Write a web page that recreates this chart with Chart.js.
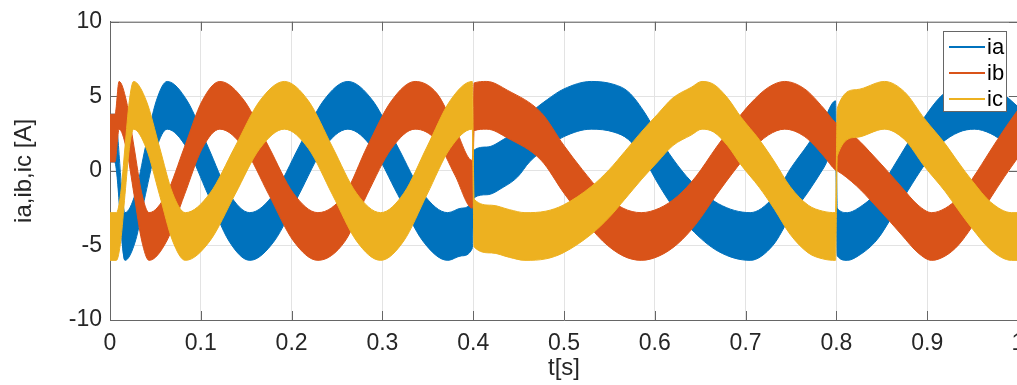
<!DOCTYPE html>
<html>
<head>
<meta charset="utf-8">
<script src="https://cdn.jsdelivr.net/npm/chart.js@4"></script>
<style>
html, body { margin: 0; padding: 0; background: #fff; overflow: hidden; width: 1017px; height: 385px; }
#grafico { position: absolute; left: 0; top: 0; }
</style>
</head>
<body>
<canvas id="grafico" width="1040" height="385"></canvas>
<script>
// nomes e cores das fases
const nomes = ['ia', 'ib', 'ic'];
const cores = ['#0072BD', '#D95319', '#EDB120'];

// meia largura da faixa de ripple (A)
const ripple = 1.6;

// ia - tempos (s) e valor medio da faixa (A)
const tA = [0, 0.005, 0.0165, 0.028, 0.039, 0.051, 0.063, 0.085, 0.108, 0.131, 0.154, 0.181, 0.208, 0.235, 0.262, 0.2895, 0.317, 0.3445, 0.372, 0.387, 0.399,
  0.401, 0.415, 0.433, 0.449, 0.462, 0.482, 0.5, 0.53, 0.555, 0.571, 0.59, 0.604, 0.62, 0.64, 0.67, 0.705, 0.73, 0.75, 0.769, 0.786, 0.799,
  0.801, 0.812, 0.824, 0.845, 0.862, 0.879, 0.897, 0.915, 0.935, 0.952, 0.97, 0.985, 1.0];
const ia = [2.2, 2.2, -4.4, -3.1, 0, 3.1, 4.4, 3.1, 0, -3.1, -4.4, -3.1, 0, 3.1, 4.4, 3.1, 0, -3.1, -4.4, -4.1, -3.6,
  -0.2, 0.0, 0.5, 1.2, 2.2, 3.2, 3.9, 4.4, 4.2, 3.7, 2.2, 0.7, -0.8, -2.3, -3.8, -4.4, -3.4, -1.4, 0.2, 1.8, 3.1,
  -4.1, -4.4, -4.1, -3.0, -1.4, 0.3, 2.0, 3.4, 4.2, 4.4, 4.1, 3.5, 2.7];

// ib
const tB = [0, 0.0055, 0.010, 0.018, 0.0265, 0.035, 0.043, 0.0625, 0.082, 0.1015, 0.121, 0.148, 0.175, 0.202, 0.229, 0.259, 0.283, 0.31, 0.336, 0.36, 0.38, 0.399,
  0.401, 0.415, 0.438, 0.475, 0.5, 0.52, 0.5425, 0.565, 0.585, 0.605, 0.625, 0.645, 0.668, 0.69, 0.705, 0.725, 0.743, 0.765, 0.786, 0.799,
  0.801, 0.822, 0.841, 0.859, 0.872, 0.89, 0.905, 0.92, 0.934, 0.95, 0.97, 0.985, 1.0];
const ib = [2.2, 2.2, 4.4, 3.1, 0, -3.1, -4.4, -3.1, 0, 3.1, 4.4, 3.1, 0, -3.1, -4.4, -3.1, 0, 3.1, 4.4, 3.6, 1.3, -0.9,
  4.3, 4.4, 3.8, 2.3, 0.1, -1.5, -3.1, -4.1, -4.4, -4.1, -3.3, -2.0, 0, 1.8, 2.9, 4.0, 4.4, 3.9, 2.6, 1.65,
  1.6, 0.6, -0.6, -1.8, -2.7, -3.9, -4.4, -4.1, -3.4, -2.1, -0.2, 1.2, 2.5];

// ic
const tC = [0, 0.007, 0.0118, 0.0165, 0.0213, 0.026, 0.040, 0.0545, 0.069, 0.083, 0.110, 0.1375, 0.165, 0.192, 0.2185, 0.245, 0.2715, 0.298, 0.3235, 0.349, 0.3745, 0.399,
  0.401, 0.42, 0.44, 0.457, 0.48, 0.499, 0.53, 0.55, 0.567, 0.585, 0.603, 0.62, 0.64, 0.652, 0.665, 0.68, 0.695, 0.715, 0.732, 0.749, 0.769, 0.785, 0.799,
  0.801, 0.822, 0.853, 0.875, 0.897, 0.92, 0.934, 0.95, 0.97, 0.993, 1.0];
const ic = [-4.4, -4.4, -3.1, 0, 3.1, 4.4, 3.1, 0, -3.1, -4.4, -3.1, 0, 3.1, 4.4, 3.1, 0, -3.1, -4.4, -3.1, 0, 3.1, 4.4,
  -3.5, -3.9, -4.2, -4.4, -4.3, -3.9, -2.65, -1.5, -0.3, 1.0, 2.2, 3.3, 4.0, 4.4, 4.2, 3.3, 2.0, 0.5, -1.0, -2.65, -3.9, -4.3, -4.4,
  2.6, 3.85, 4.4, 3.7, 1.9, 0.2, -1.0, -2.3, -3.7, -4.4, -4.4];

const fonte = "'Liberation Sans', Arial, sans-serif";

function borda(tempos, valores, sinal) {
    return tempos.map((t, i) => ({ x: t, y: valores[i] + sinal * ripple }));
}

// ic desenhado por cima, depois ib, depois ia
const series = [[tC, ic, 2], [tB, ib, 1], [tA, ia, 0]];
const datasets = [];
series.forEach(([t, v, k]) => {
    datasets.push({ label: nomes[k] + ' max', data: borda(t, v, 1), borderColor: cores[k], fill: false });
    datasets.push({ label: nomes[k], data: borda(t, v, -1), borderColor: cores[k], backgroundColor: cores[k], fill: '-1' });
});

// caixa do eixo e marcas para dentro (estilo MATLAB)
const moldura = {
    id: 'moldura',
    beforeDatasetsDraw(chart) {
        const { ctx, chartArea: a, scales } = chart;
        ctx.save();
        ctx.strokeStyle = '#666';
        ctx.lineWidth = 1;
        ctx.beginPath();
        ctx.moveTo(a.left, a.top + 0.5); ctx.lineTo(a.right, a.top + 0.5);
        ctx.moveTo(a.right - 0.5, a.top); ctx.lineTo(a.right - 0.5, a.bottom);
        scales.x.ticks.forEach(tk => {
            const px = Math.round(scales.x.getPixelForValue(tk.value)) + 0.5;
            ctx.moveTo(px, a.bottom); ctx.lineTo(px, a.bottom - 9);
            ctx.moveTo(px, a.top); ctx.lineTo(px, a.top + 9);
        });
        scales.y.ticks.forEach(tk => {
            const py = Math.round(scales.y.getPixelForValue(tk.value)) + 0.5;
            ctx.moveTo(a.left, py); ctx.lineTo(a.left + 9, py);
            ctx.moveTo(a.right, py); ctx.lineTo(a.right - 9, py);
        });
        ctx.stroke();
        ctx.restore();
    },
    // legenda dentro da area do grafico, canto superior direito
    afterDraw(chart) {
        const ctx = chart.ctx;
        ctx.save();
        ctx.fillStyle = '#fff';
        ctx.fillRect(943, 31, 64, 81);
        ctx.strokeStyle = '#666';
        ctx.lineWidth = 1;
        ctx.strokeRect(943.5, 31.5, 63, 80);
        ctx.font = '22px ' + fonte;
        ctx.textBaseline = 'middle';
        nomes.forEach((n, i) => {
            const y = 47 + i * 26;
            ctx.strokeStyle = cores[i];
            ctx.lineWidth = 2;
            ctx.beginPath();
            ctx.moveTo(949, y);
            ctx.lineTo(985, y);
            ctx.stroke();
            ctx.fillStyle = '#000';
            ctx.fillText(n, 987, y + 1);
        });
        ctx.restore();
    }
};

const contexto = document.getElementById('grafico').getContext('2d');
new Chart(contexto, {
    type: 'line',
    data: { datasets: datasets },
    plugins: [moldura],
    options: {
        responsive: false,
        animation: false,
        devicePixelRatio: 1,
        layout: { padding: { left: 0, right: 22, top: 20, bottom: 0 } },
        elements: {
            point: { radius: 0 },
            line: { borderWidth: 1, cubicInterpolationMode: 'monotone' }
        },
        plugins: { legend: { display: false }, tooltip: { enabled: false } },
        scales: {
            x: {
                type: 'linear', min: 0, max: 1,
                afterFit: s => { s.height = 65; },
                ticks: {
                    stepSize: 0.1, autoSkip: false, maxRotation: 0, padding: 10, color: '#262626',
                    font: { family: fonte, size: 23 },
                    callback: v => String(Math.round(v * 10) / 10)
                },
                grid: { color: '#e3e3e3', drawTicks: false },
                border: { color: '#666' },
                title: { display: true, text: 't[s]', color: '#262626', font: { family: fonte, size: 24 }, padding: { top: 0, bottom: 2 } }
            },
            y: {
                min: -10, max: 10,
                afterFit: s => { s.width = 110; },
                ticks: { stepSize: 5, padding: 8, color: '#262626', font: { family: fonte, size: 23 } },
                grid: { color: '#e3e3e3', drawTicks: false },
                border: { color: '#666' },
                title: { display: true, text: 'ia,ib,ic [A]', color: '#262626', font: { family: fonte, size: 24 }, padding: { top: 10, bottom: 0 } }
            }
        }
    }
});
</script>
</body>
</html>
